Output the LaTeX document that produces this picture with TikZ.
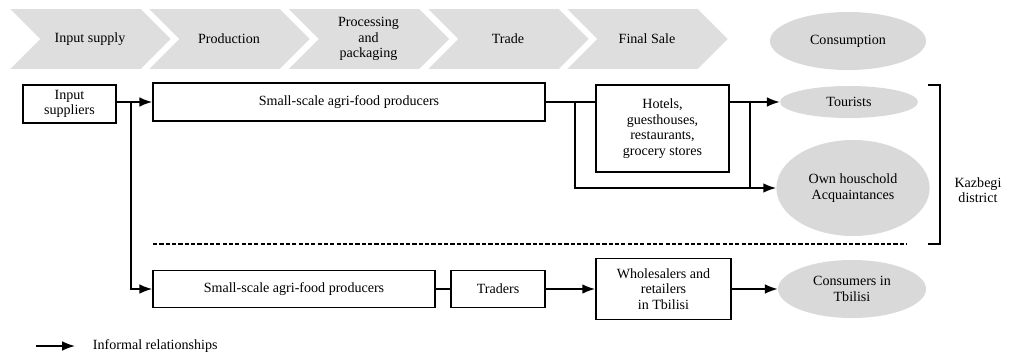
\documentclass[tikz,border=0pt]{standalone}
\usepackage{fontspec}
\setmainfont{Liberation Serif}
\usetikzlibrary{shapes.geometric, shapes.symbols, arrows.meta, positioning, calc}

\begin{document}
\begin{tikzpicture}[x=0.025cm, y=-0.025cm, font=\fontsize{10}{11}\selectfont,
    stage/.style={signal, signal from=west, signal to=east, fill=black!13, draw=white, line width=1.2pt,
        minimum width=4.1cm, minimum height=1.55cm, inner sep=0pt, align=center},
    actor/.style={draw, line width=1.1pt, align=center, inner sep=2pt},
    market/.style={ellipse, fill=black!15, align=center, inner sep=0pt},
    flow/.style={line width=1.1pt, -{Latex[length=3.2mm, width=2.4mm]}},
    link/.style={line width=1.1pt}]
    \useasboundingbox (0,0) rectangle (1014,355);

    % Value chain stages
    \node[stage] (s1) at (90,39) {Input supply};
    \node[stage] (s2) at (229,39) {Production};
    \node[stage] (s3) at (368.5,39) {Processing\\and\\packaging};
    \node[stage] (s4) at (508,39) {Trade};
    \node[stage] (s5) at (647,39) {Final Sale};
    \node[market, minimum width=3.9cm, minimum height=1.45cm] (cons) at (848,41) {Consumption};

    % Kazbegi district chain
    \node[actor, minimum width=2.33cm, minimum height=0.95cm] (inp) at (69.5,104) {Input\\suppliers};
    \node[actor, minimum width=9.8cm, minimum height=0.95cm] (prodtop) at (349,102) {Small-scale agri-food producers};
    \node[actor, minimum width=3.33cm, minimum height=2.18cm] (hotels) at (662.5,128.5) {Hotels,\\guesthouses,\\restaurants,\\grocery stores};
    \node[market, minimum width=3.45cm, minimum height=0.8cm] (tour) at (849,102) {Tourists};
    \node[market, minimum width=3.83cm, minimum height=2.4cm] (own) at (853,188) {Own houschold\\Acquaintances};

    % Tbilisi chain
    \node[actor, minimum width=7.05cm, minimum height=0.93cm] (prodbot) at (294,289) {Small-scale agri-food producers};
    \node[actor, minimum width=2.35cm, minimum height=0.93cm] (traders) at (498,289) {Traders};
    \node[actor, minimum width=3.38cm, minimum height=1.53cm] (whole) at (663.5,289) {Wholesalers and\\retailers\\in Tbilisi};
    \node[market, minimum width=3.7cm, minimum height=1.45cm] (tbil) at (852,289) {Consumers in\\Tbilisi};

    % Connectors
    \draw[flow] (inp.east |- prodtop.west) -- (prodtop.west);
    \coordinate (j1) at ($(inp.east |- prodtop.west)!0.4!(prodtop.west)$);
    \draw[flow] (j1) |- (prodbot.west);
    \draw[link] (prodtop.east) -- (prodtop.east -| hotels.west);
    \coordinate (j2) at ($(prodtop.east)!0.59!(prodtop.east -| hotels.west)$);
    \draw[flow] (j2) |- (own.west);
    \draw[flow] (hotels.east |- tour.west) -- (tour.west);
    \coordinate (j3) at ($(hotels.east |- tour.west)!0.4!(tour.west)$);
    \draw[link] (j3) -- (j3 |- own.west);
    \draw[link] (prodbot) -- (traders);
    \draw[flow] (traders) -- (whole);
    \draw[flow] (whole) -- (tbil);

    % Separator and district bracket
    \coordinate (dA) at (153,244);
    \coordinate (dB) at (907,244);
    \draw[line width=1pt, dash pattern=on 3pt off 1.5pt] (dA) -- (dB);
    \coordinate (bT) at (928,85);
    \coordinate (bB) at (928,244);
    \draw[link] (bT) -- ++(12,0) |- (bB);
    \node[align=center] (kaz) at (978,190) {Kazbegi\\district};

    % Legend
    \coordinate (legA) at (36,346);
    \coordinate (legB) at (75,346);
    \draw[flow] (legA) -- (legB);
    \node[right] (legtxt) at (88,346) {Informal relationships};
\end{tikzpicture}
\end{document}
